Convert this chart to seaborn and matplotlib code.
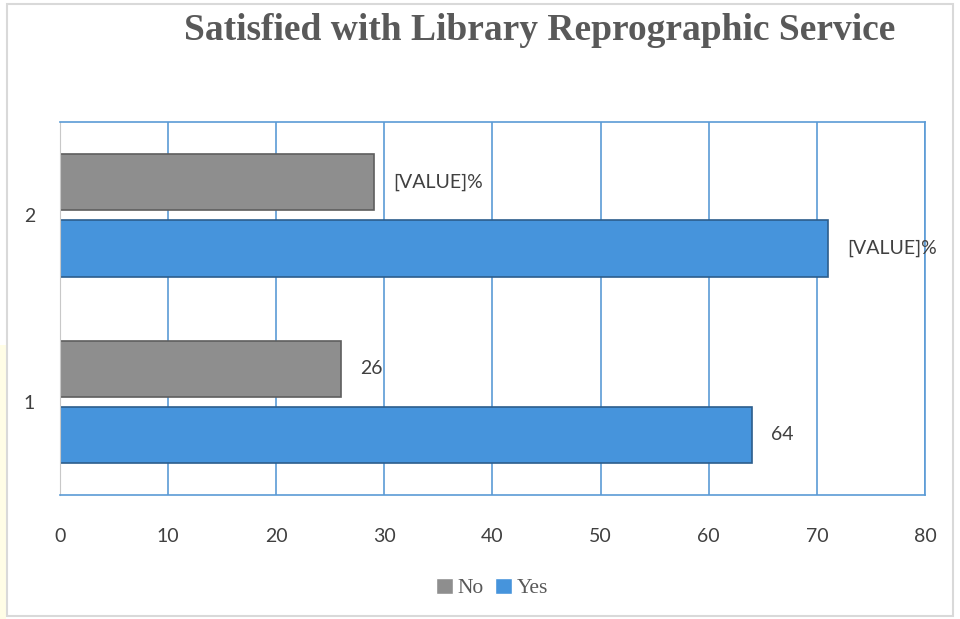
import pandas as pd
import matplotlib
matplotlib.use('Agg')
import matplotlib.pyplot as plt
import seaborn as sns
from matplotlib.patches import Rectangle

categories = ['1', '2']
yes_values = [64, 71]
no_values = [26, 29]
yes_labels = ['64', '[VALUE]%']
no_labels = ['26', '[VALUE]%']
series = ['No', 'Yes']
colors = {'No': '#8E8E8E', 'Yes': '#4694DC'}
edges = {'No': '#5E5E5E', 'Yes': '#2C5D8C'}

df = pd.DataFrame({
    'category': categories * 2,
    'series': ['Yes'] * 2 + ['No'] * 2,
    'value': yes_values + no_values,
    'label': yes_labels + no_labels,
})

sns.set_style('white')
plt.rcParams['font.family'] = ['Lato', 'DejaVu Sans']

fig = plt.figure(figsize=(9.6, 6.19), dpi=100)
ax = fig.add_axes([0.0625, 0.2003, 0.901, 0.6026])

sns.barplot(data=df, x='value', y='category', hue='series', orient='h',
            order=categories[::-1], hue_order=series, palette=colors,
            saturation=1, width=0.71, gap=0.15, ax=ax, legend=True)

for cont, name in zip(ax.containers, series):
    for bar in cont:
        bar.set_edgecolor(edges[name])
        bar.set_linewidth(1.2)
    labs = df[df['series'] == name].set_index('category').loc[categories[::-1], 'label']
    ax.bar_label(cont, labels=list(labs), padding=14, fontsize=14, color='#404040')

ax.set_xlim(0, 80)
ax.set_ylim(1.5, -0.5)
ax.set_xticks(range(0, 81, 10))
ax.grid(axis='x', color='#5B9BD5', linewidth=1.2)
ax.set_axisbelow(True)
for side in ['top', 'right', 'bottom']:
    ax.spines[side].set_color('#5B9BD5')
    ax.spines[side].set_linewidth(1.2)
ax.spines['left'].set_color('#C8C8C8')
ax.tick_params(axis='x', length=0, pad=24, labelsize=14, labelcolor='#404040')
ax.tick_params(axis='y', length=0, pad=18, labelsize=14, labelcolor='#404040')
ax.set_xlabel('')
ax.set_ylabel('')

handles, labels = ax.get_legend_handles_labels()
ax.legend(handles, labels, loc='center', bbox_to_anchor=(492 / 960, 1 - 588 / 619),
          bbox_transform=fig.transFigure, ncol=2, frameon=False,
          prop={'family': 'Liberation Serif', 'size': 15.5}, labelcolor='#595959',
          handlelength=0.8, handleheight=0.8, handletextpad=0.2, columnspacing=0.5)

fig.text(540 / 960, 1 - 30 / 619, 'Satisfied with Library Reprographic Service',
         ha='center', va='center', fontsize=27, fontweight='bold',
         family='Liberation Serif', color='#595959')

# outer chart frame and the faint yellow strip at the left edge
fig.patches.append(Rectangle((0, 0), 6 / 960, 1 - 345 / 619, transform=fig.transFigure,
                             facecolor='#FFFDE6', edgecolor='none', zorder=0))
fig.patches.append(Rectangle((7 / 960, 3 / 619), 946 / 960, 612 / 619,
                             transform=fig.transFigure, facecolor='none',
                             edgecolor='#D9D9D9', linewidth=1.5))

fig.savefig('out.png', dpi=100)
